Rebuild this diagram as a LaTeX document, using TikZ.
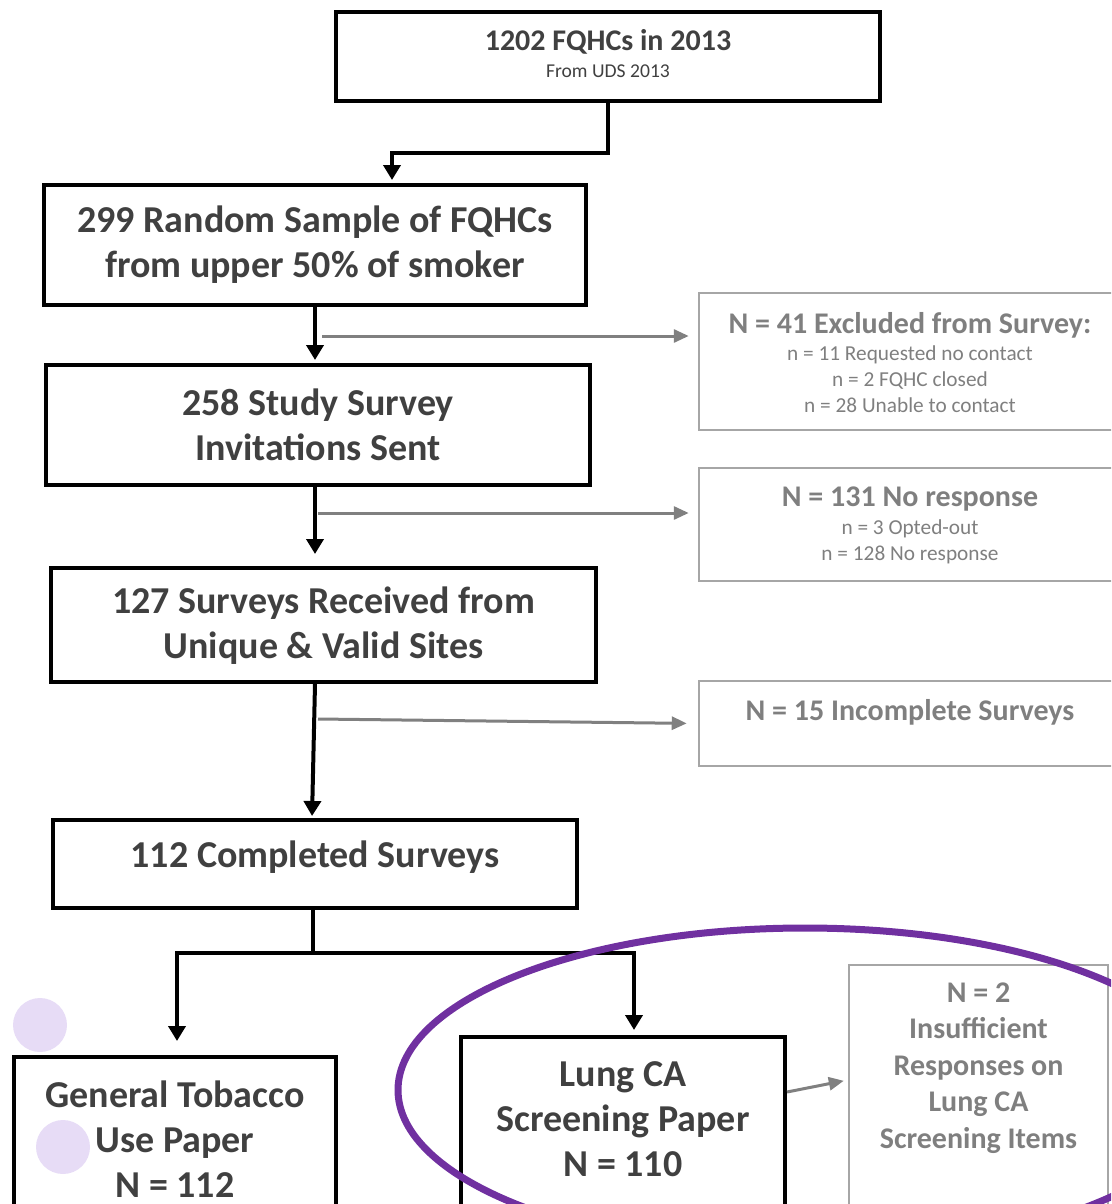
\documentclass[tikz,border=0pt]{standalone}
\usepackage{fontspec}
\setmainfont{Carlito}
\usetikzlibrary{arrows.meta,positioning}

\definecolor{boxtext}{HTML}{404040}
\definecolor{greytext}{HTML}{7F7F7F}
\definecolor{greyline}{HTML}{A6A6A6}
\definecolor{greyarrow}{HTML}{808080}
\definecolor{ringpurple}{HTML}{7030A0}
\definecolor{dotlilac}{HTML}{E7DCF6}

\tikzset{
	stage/.style={draw=black, line width=4pt, inner sep=0pt},
	side/.style={draw=greyline, line width=2.5pt, inner sep=0pt},
	big/.style={text=boxtext, align=center, inner sep=0pt, font=\fontsize{38}{45}\selectfont\bfseries},
	sidehead/.style={text=greytext, align=center, inner sep=0pt, font=\fontsize{30}{31}\selectfont\bfseries},
	sidelist/.style={text=greytext, align=center, inner sep=0pt, font=\fontsize{21.3}{26}\selectfont},
	flow/.style={line width=4pt, -{Triangle[length=15pt,width=17pt]}},
	skip/.style={greyarrow, line width=3pt, -{Triangle[length=15pt,width=13pt]}},
}

\begin{document}
\begin{tikzpicture}[x=1pt, y=-1pt]
		\useasboundingbox (0,0) rectangle (1111,1204);
		\clip (0,0) rectangle (1111,1204);

		% lilac dots
		\fill[dotlilac] (40,1025) circle [radius=27pt];
		\fill[dotlilac] (63,1147) circle [radius=27pt];

		% main column
		\node[stage, minimum width=544pt, minimum height=89pt] (uds) at (608, 56.5) {};
		\node[text=boxtext, inner sep=0pt, font=\fontsize{30}{34}\selectfont\bfseries] (udsT) at (608, 42) {1202 FQHCs in 2013};
		\node[text=boxtext, inner sep=0pt, font=\fontsize{19.6}{23}\selectfont] (udsS) at (608, 71) {From UDS 2013};

		\node[stage, minimum width=542pt, minimum height=120pt] (sample) at (315, 245) {};
		\node[big] (sampleT) at (315, 245) {299 Random Sample of FQHCs\\from upper 50\% of smoker};

		\node[stage, minimum width=544pt, minimum height=120pt] (invite) at (318, 425) {};
		\node[big] (inviteT) at (318, 425) {258 Study Survey\\Invitations Sent};

		\node[stage, minimum width=545pt, minimum height=114pt] (received) at (323.5, 625) {};
		\node[big] (receivedT) at (323.5, 626) {127 Surveys Received from\\Unique \& Valid Sites};

		\node[stage, minimum width=524pt, minimum height=88pt] (complete) at (315, 864) {};
		\node[big] (completeT) at (315, 857) {112 Completed Surveys};

		\node[stage, minimum width=322pt, minimum height=158pt] (general) at (175, 1136) {};
		\node[big] (generalT) at (175, 1139) {General Tobacco\\Use Paper\\N = 112};

		\node[stage, minimum width=324pt, minimum height=178pt] (lung) at (623, 1126) {};
		\node[big] (lungT) at (623, 1119) {Lung CA\\Screening Paper\\N = 110};

		% side boxes
		\node[side, minimum width=421pt, minimum height=137pt] (excl) at (909.5, 361.5) {};
		\node[sidehead] (exclT) at (910, 325) {N = 41 Excluded from Survey:};
		\node[sidelist] (exclL) at (910, 379) {n = 11 Requested no contact\\n = 2 FQHC closed\\n = 28 Unable to contact};

		\node[side, minimum width=421pt, minimum height=113pt] (noresp) at (909.5, 524.5) {};
		\node[sidehead] (norespT) at (910, 499) {N = 131 No response};
		\node[sidelist] (norespL) at (910, 542) {n = 3 Opted-out\\n = 128 No response};

		\node[side, minimum width=421pt, minimum height=85pt] (incompl) at (909.5, 723.5) {};
		\node[sidehead] (incomplT) at (910, 712) {N = 15 Incomplete Surveys};

		\node[side, minimum width=259pt, minimum height=250pt] (insuff) at (978.5, 1090) {};
		\node[sidehead, font=\fontsize{30}{36.5}\selectfont\bfseries] (insuffT) at (978.5, 1068) {N = 2\\Insufficient\\Responses on\\Lung CA\\Screening Items};

		% connectors
		\coordinate (bend1) at (392, 153);
		\coordinate (off1) at (322, 336);
		\coordinate (off2) at (318, 513);
		\coordinate (off3) at (318, 719);
		\coordinate (fork) at (313, 953);
		\coordinate (off4) at (787, 1092);

		\draw[flow, shorten >=3pt] (uds.south) |- (bend1) to (bend1 |- sample.north);
		\draw[flow, shorten >=3pt] (sample.south) to (sample.south |- invite.north);
		\draw[flow, shorten >=12pt] (invite.south -| sample.south) to (received.north -| sample.south);
		\draw[flow, shorten >=2pt] (received.south -| 315,0) to (complete.north -| 312,0);
		\draw[line width=4pt] (complete.south -| fork) to (fork);
		\draw[flow, shorten >=14pt] (fork) -| (general.north -| 177,0);
		\draw[flow, shorten >=5pt] (fork) -| (lung.north -| 634,0);

		\draw[skip, shorten >=9pt] (off1) to (off1 -| excl.west);
		\draw[skip, shorten >=9pt] (off2) to (off2 -| noresp.west);
		\draw[skip, shorten >=11pt] (off3) to (incompl.west);
		\draw[skip, shorten >=4pt] (off4) to ([yshift=10pt]insuff.west);

		% highlight ring
		\draw[ringpurple, line width=7pt] (805, 1090) ellipse [x radius=407pt, y radius=162pt];
\end{tikzpicture}
\end{document}
